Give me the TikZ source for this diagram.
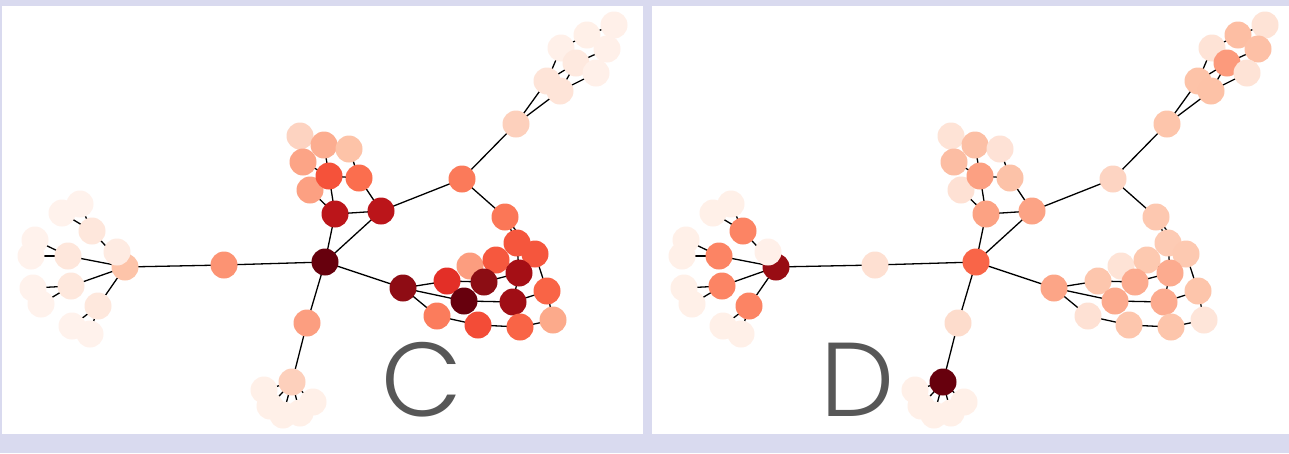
\documentclass[tikz,border=0pt]{standalone}
\usepackage{fontspec}
\IfFontExistsTF{Poppins Light}{\newfontfamily\lblfont{Poppins Light}}{\newfontfamily\lblfont{Poppins}}
\pgfdeclarelayer{back}\pgfdeclarelayer{edges}
\pgfsetlayers{back,edges,main}
\definecolor{lav}{HTML}{D9DAEF}
\definecolor{labelgray}{HTML}{575757}
\tikzset{
 nd/.style={circle,minimum size=27pt,inner sep=0pt,draw=none},
 ed/.style={draw=black,line width=1.3pt},
 lbl/.style={text=labelgray,inner sep=0pt,font=\lblfont\fontsize{105}{105}\selectfont},
}
\newcommand\nn[2]{\node[nd,fill=k#1] (#1) at (#2) {};}
\newcommand\ee[2]{\path[ed] (#1.center) -- (#2.center);}
\newcommand\dc[2]{\definecolor{k#1}{HTML}{#2}}
\newcommand\netnodes{%
 \nn{La}{62,213}\nn{Lb}{80,204}\nn{Lc}{35,240}\nn{Ld}{31,256}
 \nn{Le}{33,288}\nn{Lf}{41,304}\nn{Lg}{72,326}\nn{Lh}{90,334}
 \nn{L}{125,267}\nn{L1}{92,231}\nn{L2}{68,256}\nn{L3}{71,286}\nn{L4}{98,306}\nn{L5}{117,252}
 \nn{a}{224,265}\nn{h}{325,262}
 \nn{U5}{300,136}\nn{U6}{324,145}\nn{U7}{349,149}\nn{U8}{303,162}\nn{U9}{310,190}
 \nn{U3}{329,176}\nn{U4}{359,178}\nn{U1}{335,214}\nn{U2}{381,211}
 \nn{T}{462,179}
 \nn{Q}{516,124}\nn{Q1}{547,81}\nn{Q2}{560,91}\nn{Q3}{561,48}\nn{Q5}{587,35}
 \nn{Q8}{614,25}\nn{Q7}{607,49}\nn{Q4}{576,63}\nn{Q6}{596,73}
 \nn{R4}{470,266}\nn{R5}{496,260}\nn{R2}{517,243}\nn{R3}{535,254}\nn{R1}{505,217}
 \nn{R8}{447,281}\nn{R9}{403,288}\nn{R7}{484,282}\nn{R10}{464,301}\nn{R6}{519,273}
 \nn{R11}{513,302}\nn{R12}{547,291}\nn{R13}{437,316}\nn{R14}{478,325}\nn{R15}{520,327}\nn{R16}{553,320}
 \nn{Ba}{264,390}\nn{Bb}{270,406}\nn{Bc}{283,415}\nn{Bd}{300,413}\nn{Be}{313,402}
 \nn{B}{307,323}\nn{B0}{292,382}
 \begin{pgfonlayer}{edges}
 \ee{h}{a}\ee{a}{L}
 \ee{L}{L1}\ee{L}{L2}\ee{L}{L3}\ee{L}{L4}\ee{L}{L5}
 \ee{L1}{La}\ee{L1}{Lb}\ee{L2}{Lc}\ee{L2}{Ld}\ee{L3}{Le}\ee{L3}{Lf}\ee{L4}{Lg}\ee{L4}{Lh}
 \ee{h}{U1}\ee{h}{U2}\ee{U1}{U2}\ee{U1}{U3}\ee{U2}{U4}\ee{U3}{U4}
 \ee{U3}{U6}\ee{U4}{U7}\ee{U1}{U9}\ee{U3}{U8}\ee{U8}{U5}
 \ee{U2}{T}\ee{T}{Q}\ee{T}{R1}
 \ee{Q}{Q1}\ee{Q}{Q2}\ee{Q1}{Q3}\ee{Q1}{Q4}\ee{Q2}{Q4}\ee{Q2}{Q6}\ee{Q3}{Q5}\ee{Q4}{Q7}\ee{Q5}{Q8}
 \ee{h}{R9}\ee{R9}{R8}\ee{R9}{R10}\ee{R9}{R13}\ee{R8}{R7}\ee{R7}{R6}\ee{R10}{R11}
 \ee{R11}{R6}\ee{R11}{R12}\ee{R12}{R3}\ee{R12}{R16}\ee{R13}{R14}\ee{R14}{R15}\ee{R15}{R16}
 \ee{R1}{R2}\ee{R1}{R3}\ee{R2}{R6}\ee{R4}{R7}\ee{R5}{R6}
 \ee{h}{B}\ee{B}{B0}\ee{B0}{Ba}\ee{B0}{Bb}\ee{B0}{Bc}\ee{B0}{Bd}\ee{B0}{Be}
 \end{pgfonlayer}}
\begin{document}
\begin{tikzpicture}[x=1pt,y=-1pt]
\useasboundingbox (0,0) rectangle (1289,453);
\begin{pgfonlayer}{back}
\fill[lav] (0,0) rectangle (1289,453);
\fill[white] (2,6) rectangle (643,434);
\fill[white] (652,6) rectangle (1289,434);
\end{pgfonlayer}
% panel C colours
\dc{La}{FFF2EC}\dc{Lb}{FFF2EC}\dc{Lc}{FFF2EC}\dc{Ld}{FFF2EC}\dc{Le}{FFF2EC}\dc{Lf}{FFF2EC}\dc{Lg}{FFF2EC}\dc{Lh}{FFF2EC}
\dc{L}{FDC4A9}\dc{L1}{FEE7DC}\dc{L2}{FEE7DC}\dc{L3}{FEE8DD}\dc{L4}{FEE8DD}\dc{L5}{FEEBE2}
\dc{a}{FC9373}\dc{h}{67000D}
\dc{U1}{BB151A}\dc{U2}{BB151A}\dc{U3}{F5523A}\dc{U4}{FB6E4E}\dc{U5}{FDD3C1}\dc{U6}{FCAD90}\dc{U7}{FDC3A8}\dc{U8}{FCA486}\dc{U9}{FCA082}
\dc{T}{FB7A5A}
\dc{R1}{FB7757}\dc{R2}{F5563D}\dc{R3}{F5563D}\dc{R4}{FC9D7F}\dc{R5}{F6583E}\dc{R6}{A50F15}\dc{R7}{8C0D14}\dc{R8}{E32F27}
\dc{R9}{8E0C14}\dc{R10}{67000D}\dc{R11}{A00E15}\dc{R12}{F96446}\dc{R13}{FB7C5C}\dc{R14}{F34C37}\dc{R15}{F96446}\dc{R16}{FCAA8B}
\dc{Q}{FDD0BC}\dc{Q1}{FEE4D8}\dc{Q2}{FEE4D8}\dc{Q3}{FFF0E9}\dc{Q4}{FEE9DF}\dc{Q5}{FFF0E8}\dc{Q6}{FFF0E9}\dc{Q7}{FFF0E9}\dc{Q8}{FFF0E9}
\dc{B}{FC9E80}\dc{B0}{FDD0BC}\dc{Ba}{FFF0E8}\dc{Bb}{FFF0E8}\dc{Bc}{FFF0E8}\dc{Bd}{FFF0E8}\dc{Be}{FFF0E8}
\begin{scope}[name prefix=c-]
\netnodes
\node[lbl] (lab) at (422,380) {C};
\end{scope}
% panel D colours
\dc{La}{FFF0E8}\dc{Lb}{FFF0E8}\dc{Lc}{FFF0E8}\dc{Ld}{FFF0E8}\dc{Le}{FFF0E8}\dc{Lf}{FFF0E8}\dc{Lg}{FFF0E8}\dc{Lh}{FFF0E8}
\dc{L}{980C13}\dc{L1}{FC8464}\dc{L2}{FC8464}\dc{L3}{FC8464}\dc{L4}{FC8464}\dc{L5}{FFF0E9}
\dc{a}{FEE0D2}\dc{h}{F96548}
\dc{U1}{FCA283}\dc{U2}{FCA385}\dc{U3}{FCA082}\dc{U4}{FCC2A8}\dc{U5}{FEE3D6}\dc{U6}{FCBFA5}\dc{U7}{FEE2D6}\dc{U8}{FCBDA3}\dc{U9}{FEE1D4}
\dc{T}{FDD4C2}
\dc{R1}{FDC8B0}\dc{R2}{FDCBB4}\dc{R3}{FDC9B1}\dc{R4}{FEE3D6}\dc{R5}{FDC9B0}\dc{R6}{FCAB8F}\dc{R7}{FCAB8F}\dc{R8}{FDC6AD}
\dc{R9}{FCA587}\dc{R10}{FCAA8D}\dc{R11}{FCAB8F}\dc{R12}{FDC5AB}\dc{R13}{FEE1D4}\dc{R14}{FDC6AD}\dc{R15}{FDC5AB}\dc{R16}{FEE5D9}
\dc{Q}{FDC5AB}\dc{Q1}{FDC3A8}\dc{Q2}{FDC2A7}\dc{Q3}{FEE3D6}\dc{Q4}{FC9A7C}\dc{Q5}{FDBEA3}\dc{Q6}{FEE3D6}\dc{Q7}{FDC0A6}\dc{Q8}{FEE3D6}
\dc{B}{FDDCCC}\dc{B0}{67000D}\dc{Ba}{FFF0E8}\dc{Bb}{FFF0E8}\dc{Bc}{FFF0E8}\dc{Bd}{FFF0E8}\dc{Be}{FFF0E8}
\begin{scope}[name prefix=d-,xshift=651pt]
\netnodes
\node[lbl] (lab) at (207,380) {D};
\end{scope}
\end{tikzpicture}
\end{document}
